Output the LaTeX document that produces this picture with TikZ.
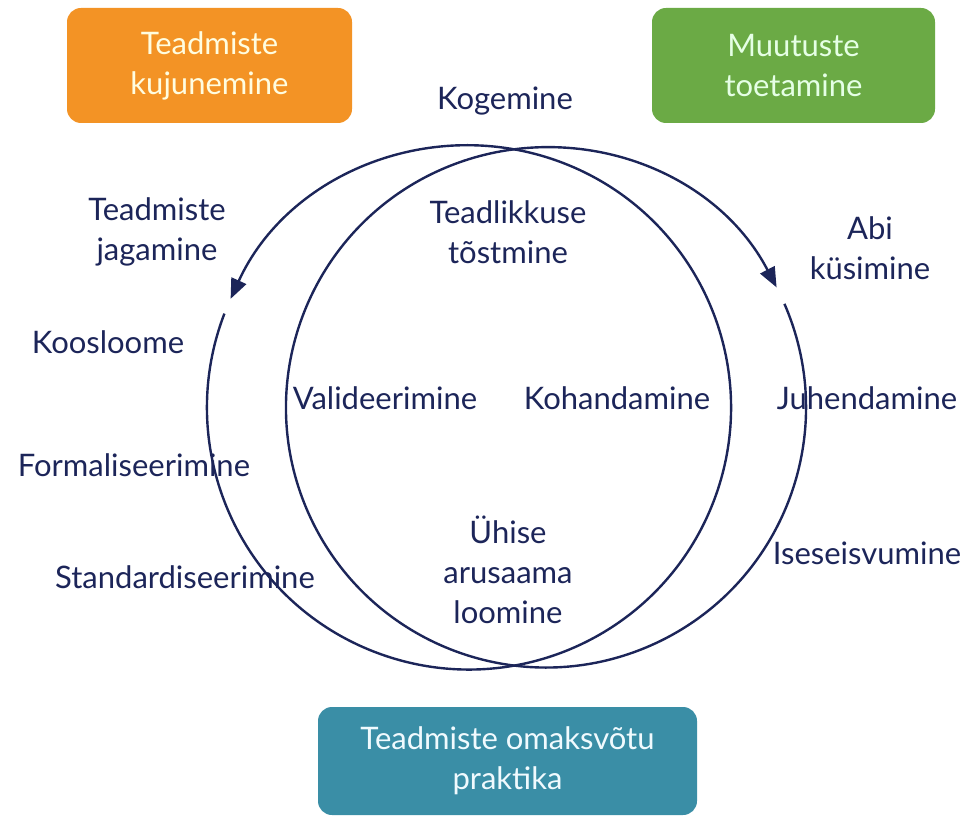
\documentclass[tikz,border=0pt]{standalone}
\usepackage{fontspec}
\setmainfont{Lato}
\usetikzlibrary{arrows.meta}
\definecolor{navy}{HTML}{1C2559}
\definecolor{boxorange}{HTML}{F39325}
\definecolor{boxgreen}{HTML}{6BAA45}
\definecolor{boxteal}{HTML}{3A8EA6}
\begin{document}
\begin{tikzpicture}[x=1pt,y=1pt,
  lbl/.style={text=navy, font=\fontsize{31}{40}\selectfont, align=center, inner sep=0pt},
  catbox/.style={rounded corners=14pt, font=\fontsize{31}{40}\selectfont, align=center, inner sep=0pt, minimum height=115pt},
  circ/.style={draw=navy, line width=2.4pt},
  tip/.style={-{Triangle[length=20pt,width=16pt]}}]
\useasboundingbox (0,0) rectangle (968,819);
% category boxes
\node[catbox, fill=boxorange, text=yellow!12!white, minimum width=285pt] (kuj) at (209.5,753.5) {Teadmiste\\kujunemine};
\node[catbox, fill=boxgreen, text=green!10!white, minimum width=283pt] (muu) at (793.5,753.5) {Muutuste\\toetamine};
\node[catbox, fill=boxteal, text=cyan!6!white, minimum width=379pt, minimum height=108pt] (oma) at (507.5,58) {Teadmiste omaksvõtu\\praktika};
% circles
\coordinate (L) at (469,411.5);
\coordinate (R) at (546,411.5);
\draw[circ, tip] (L) ++(159:262) arc[start angle=159, end angle=515.5, radius=262];
\draw[circ, tip] (R) ++(23.5:260) arc[start angle=23.5, end angle=-332.5, radius=260];
% labels
\node[lbl] (kog) at (505,718) {Kogemine};
\node[lbl] (jag) at (157,587) {Teadmiste\\jagamine};
\node[lbl] (tea) at (508,587) {Teadlikkuse\\tõstmine};
\node[lbl] (abi) at (870,571) {Abi\\küsimine};
\node[lbl] (koo) at (108,477) {Koosloome};
\node[lbl] (val) at (385,421) {Valideerimine};
\node[lbl] (koh) at (617,421) {Kohandamine};
\node[lbl] (juh) at (867,421) {Juhendamine};
\node[lbl] (for) at (134,354) {Formaliseerimine};
\node[lbl] (yhi) at (508,249) {Ühise\\arusaama\\loomine};
\node[lbl] (sta) at (185,242) {Standardiseerimine};
\node[lbl] (ise) at (867,266) {Iseseisvumine};
\end{tikzpicture}
\end{document}
